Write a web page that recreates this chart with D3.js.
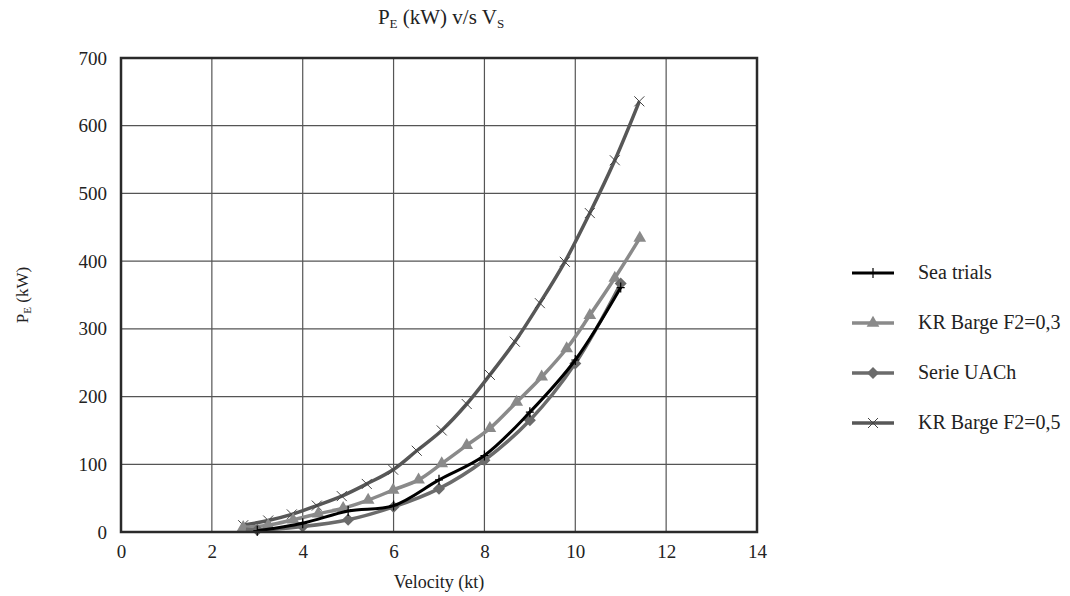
<!DOCTYPE html>
<html>
<head>
<meta charset="utf-8">
<script src="https://cdn.jsdelivr.net/npm/d3@7"></script>
<style>
  body { margin: 0; background: #fff; }
  svg text { font-family: "Liberation Serif", "Times New Roman", "DejaVu Serif", serif; fill: #222; }
</style>
</head>
<body>
<div id="chart"></div>
<script>
// data
const seaV = [3, 4, 5, 6, 7, 8, 9, 10, 11];
const seaP = [2, 13, 31, 39, 77, 113, 177, 254, 361];

const kr03V = [2.69, 3.24, 3.79, 4.34, 4.89, 5.44, 5.99, 6.55, 7.06, 7.61, 8.12, 8.71, 9.26, 9.81, 10.32, 10.87, 11.42];
const kr03P = [7, 10, 18, 27, 35, 47, 62, 77, 101, 128, 153, 192, 229, 271, 320, 375, 434];

const uachV = [2.75, 3, 4, 5, 6, 7, 8, 9, 10, 11];
const uachP = [4, 3, 8, 18, 37, 64, 106, 165, 249, 367];

const kr05V = [2.69, 3.24, 3.76, 4.31, 4.86, 5.41, 5.99, 6.51, 7.06, 7.61, 8.12, 8.67, 9.22, 9.77, 10.32, 10.87, 11.41];
const kr05P = [10, 17, 26, 39, 53, 71, 92, 120, 150, 189, 232, 281, 338, 399, 471, 549, 636];

const xTicks = [0, 2, 4, 6, 8, 10, 12, 14];
const yTicks = [0, 100, 200, 300, 400, 500, 600, 700];

const seriesNames = ["Sea trials", "KR Barge F2=0,3", "Serie UACh", "KR Barge F2=0,5"];

const FONT = '"Liberation Serif", "Times New Roman", serif';

const svg = d3.select("#chart").append("svg")
    .attr("width", 1070)
    .attr("height", 596)
    .attr("font-family", FONT);

const margin = { top: 58, left: 121 };
const graphWidth = 636;
const graphHeight = 474;

const graph = svg.append("g")
    .attr("transform", `translate(${margin.left},${margin.top})`);

const x = d3.scaleLinear().domain([0, 14]).range([0, graphWidth]);
const y = d3.scaleLinear().domain([0, 700]).range([graphHeight, 0]);

// grid
graph.append("g").selectAll("line")
    .data(xTicks)
    .enter().append("line")
    .attr("x1", d => x(d)).attr("x2", d => x(d))
    .attr("y1", 0).attr("y2", graphHeight)
    .attr("stroke", "#555").attr("stroke-width", 1.2);

graph.append("g").selectAll("line")
    .data(yTicks)
    .enter().append("line")
    .attr("x1", 0).attr("x2", graphWidth)
    .attr("y1", d => y(d)).attr("y2", d => y(d))
    .attr("stroke", "#555").attr("stroke-width", 1.2);

// axes (labels only)
const xAxis = graph.append("g")
    .attr("transform", `translate(0,${graphHeight})`)
    .call(d3.axisBottom(x).tickValues(xTicks).tickSize(0).tickPadding(13));
const yAxis = graph.append("g")
    .call(d3.axisLeft(y).tickValues(yTicks).tickSize(0).tickPadding(14));
[xAxis, yAxis].forEach(a => {
    a.attr("font-family", FONT);
    a.select(".domain").remove();
    a.selectAll("text")
        .style("font-family", FONT)
        .style("font-size", "19px")
        .attr("fill", "#222");
});

// series
const series = [
    { name: seriesNames[0], v: seaV, p: seaP, color: "#000", width: 3, marker: "plus" },
    { name: seriesNames[1], v: kr03V, p: kr03P, color: "#8a8a8a", width: 3.5, marker: "triangle" },
    { name: seriesNames[2], v: uachV, p: uachP, color: "#6b6b6b", width: 3.5, marker: "diamond" },
    { name: seriesNames[3], v: kr05V, p: kr05P, color: "#575757", width: 3.5, marker: "cross" }
];

const line = d3.line()
    .x(d => x(d[0]))
    .y(d => y(d[1]))
    .curve(d3.curveCatmullRom.alpha(0.5));

function drawMarker(g, type, color) {
    if (type === "plus") {
        g.append("path").attr("d", "M-4,0H4M0,-5V5")
            .attr("stroke", "#000").attr("stroke-width", 1.2).attr("fill", "none");
    } else if (type === "cross") {
        g.append("path").attr("d", "M-5,-5L5,5M-5,5L5,-5")
            .attr("stroke", "#444").attr("stroke-width", 1).attr("fill", "none");
    } else if (type === "triangle") {
        g.append("path").attr("d", d3.symbol(d3.symbolTriangle, 70)())
            .attr("fill", color);
    } else if (type === "diamond") {
        g.append("path").attr("d", "M0,-6L6,0L0,6L-6,0Z")
            .attr("fill", color);
    }
}

// draw order: UACh and KR lines under sea trials
[series[3], series[1], series[2], series[0]].forEach(s => {
    const pts = s.v.map((v, i) => [v, s.p[i]]);
    const g = graph.append("g");
    g.append("path")
        .datum(pts)
        .attr("d", line)
        .attr("fill", "none")
        .attr("stroke", s.color)
        .attr("stroke-width", s.width);
    g.selectAll("g.mk")
        .data(pts.filter((d, i) => !(s.marker === "diamond" && i === 0)))
        .enter().append("g")
        .attr("class", "mk")
        .attr("transform", d => `translate(${x(d[0])},${y(d[1])})`)
        .each(function () { drawMarker(d3.select(this), s.marker, s.color); });
});

// plot border
graph.append("rect")
    .attr("width", graphWidth).attr("height", graphHeight)
    .attr("fill", "none").attr("stroke", "#2a2a2a").attr("stroke-width", 2.5);

// title
const title = svg.append("text")
    .attr("x", 441).attr("y", 24)
    .attr("text-anchor", "middle")
    .style("font-size", "21px");
title.append("tspan").text("P");
title.append("tspan").attr("baseline-shift", "-30%").style("font-size", "13px").text("E");
title.append("tspan").text(" (kW) v/s V");
title.append("tspan").attr("baseline-shift", "-30%").style("font-size", "13px").text("S");

// x label
svg.append("text")
    .attr("x", 439).attr("y", 588)
    .attr("text-anchor", "middle")
    .style("font-size", "18px")
    .text("Velocity (kt)");

// y label
const yl = svg.append("text")
    .attr("transform", "translate(28,295) rotate(-90)")
    .attr("text-anchor", "middle")
    .style("font-size", "17px");
yl.append("tspan").text("P");
yl.append("tspan").attr("baseline-shift", "-30%").style("font-size", "11px").text("E");
yl.append("tspan").text(" (kW)");

// legend
const legend = svg.append("g").attr("transform", "translate(852,273)");
const rows = legend.selectAll("g")
    .data(series)
    .enter().append("g")
    .attr("transform", (d, i) => `translate(0,${i * 50})`);
rows.append("line")
    .attr("x1", 0).attr("x2", 42)
    .attr("stroke", d => d.color)
    .attr("stroke-width", d => d.width);
rows.append("g")
    .attr("transform", "translate(21,0)")
    .each(function (d) { drawMarker(d3.select(this), d.marker, d.color); });
rows.append("text")
    .attr("x", 66).attr("y", 6)
    .style("font-size", "20px")
    .text(d => d.name);
</script>
</body>
</html>
